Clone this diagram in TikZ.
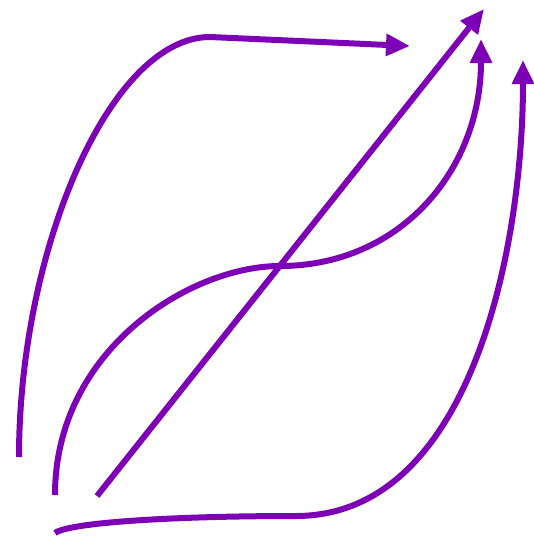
\documentclass[tikz,border=0pt]{standalone}
\usetikzlibrary{arrows.meta}
\definecolor{pur}{RGB}{125,0,182}
\begin{document}
\begin{tikzpicture}[x=1pt,y=-1pt,
  curve/.style={draw=pur,line width=6pt,-{Triangle[length=24pt,width=21pt]}}]
\useasboundingbox (0,0) rectangle (534,541);
\coordinate (a0) at (19,457);
\coordinate (a1) at (210,37);
\coordinate (a2) at (410,46);
\coordinate (b0) at (97,496);
\coordinate (b1) at (484,9);
\coordinate (c0) at (55,495);
\coordinate (c1) at (280,266);
\coordinate (c2) at (481,39);
\coordinate (d0) at (55,533);
\coordinate (d1) at (296,516);
\coordinate (d2) at (523,60);
\draw[curve] (a0) .. controls (19,250) and (110,37) .. (a1) -- (a2);
\draw[curve] (b0) -- (b1);
\draw[curve] (c0) .. controls (55,350) and (190,266) .. (c1) .. controls (400,266) and (481,170) .. (c2);
\draw[curve] (d0) .. controls (70,522) and (180,516) .. (d1) .. controls (470,516) and (523,250) .. (d2);
\end{tikzpicture}
\end{document}
